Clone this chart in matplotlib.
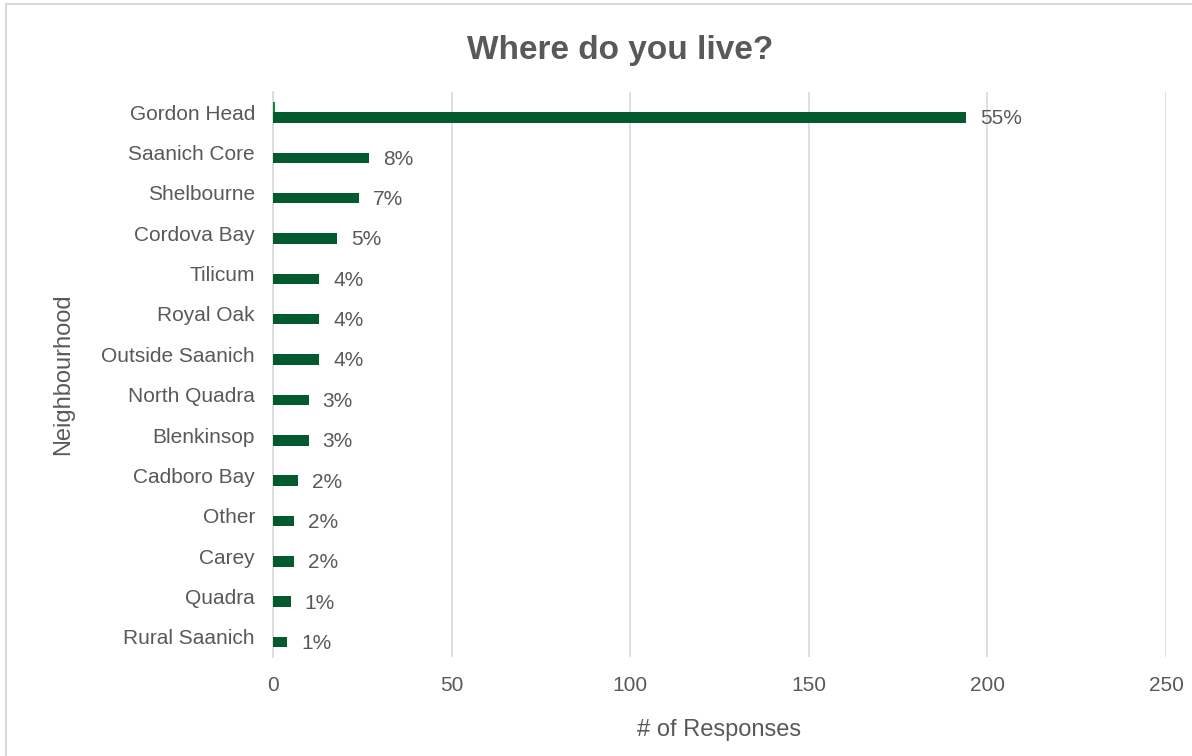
import matplotlib
matplotlib.use("Agg")
import matplotlib.pyplot as plt
from matplotlib.patches import Rectangle

categories = ["Gordon Head", "Saanich Core", "Shelbourne", "Cordova Bay", "Tilicum",
              "Royal Oak", "Outside Saanich", "North Quadra", "Blenkinsop",
              "Cadboro Bay", "Other", "Carey", "Quadra", "Rural Saanich"]
responses = [194, 27, 24, 18, 13, 13, 13, 10, 10, 7, 6, 6, 5, 4]
pct_labels = ["55%", "8%", "7%", "5%", "4%", "4%", "4%", "3%", "3%", "2%", "2%", "2%", "1%", "1%"]
minor_series = [0.5, 0, 0, 0, 0, 0, 0, 0, 0, 0, 0, 0, 0, 0]
x_ticks = [0, 50, 100, 150, 200, 250]

plt.rcParams['font.family'] = ['Liberation Sans', 'DejaVu Sans']
grey = "#595959"
dark_green = "#035A2E"
light_green = "#10873F"

fig = plt.figure(figsize=(11.92, 7.56), dpi=100)
ax = fig.add_axes([273/1192, 1-657/756, (1166-273)/1192, (657-92)/756])

pos = list(range(len(categories)))
h = 0.26
ax.barh([p - h/2 for p in pos], minor_series, height=h, color=light_green, zorder=3)
bars = ax.barh([p + h/2 for p in pos], responses, height=h, color=dark_green, zorder=3)

for b, lab in zip(bars, pct_labels):
    ax.annotate(lab, xy=(b.get_width(), b.get_y() + b.get_height()/2),
                xytext=(10, -1), textcoords="offset points", ha="left", va="center",
                fontsize=15, color=grey)

ax.set_ylim(len(categories) - 0.5, -0.5)
ax.set_xlim(0, 250)
ax.set_xticks(x_ticks)
ax.set_yticks(pos)
ax.set_yticklabels(categories, fontsize=15.3)
ax.tick_params(axis='both', length=0, labelsize=15, colors=grey)
ax.tick_params(axis='x', pad=14)
ax.tick_params(axis='y', pad=13)
ax.xaxis.grid(True, color="#D9D9D9", linewidth=1.2, zorder=0)
for s in ["top", "right", "bottom"]:
    ax.spines[s].set_visible(False)
ax.spines["left"].set_color("#D9D9D9")
ax.spines["left"].set_linewidth(1.2)

ax.set_xlabel("# of Responses", fontsize=17, color=grey, labelpad=17)
ax.set_ylabel("Neighbourhood", fontsize=17, color=grey)
ax.yaxis.set_label_coords((74 - 273) / (1166 - 273), 0.5)
fig.text(0.5205, 1-51/756, "Where do you live?", ha="center", va="center",
         fontsize=24, fontweight="bold", color=grey)

fig.patches.append(Rectangle((6/1192, -0.05), 1.2, 1.05 - 4/756, transform=fig.transFigure,
                             fill=False, edgecolor="#D9D9D9", linewidth=1.5))

fig.savefig("out.png", dpi=100)
